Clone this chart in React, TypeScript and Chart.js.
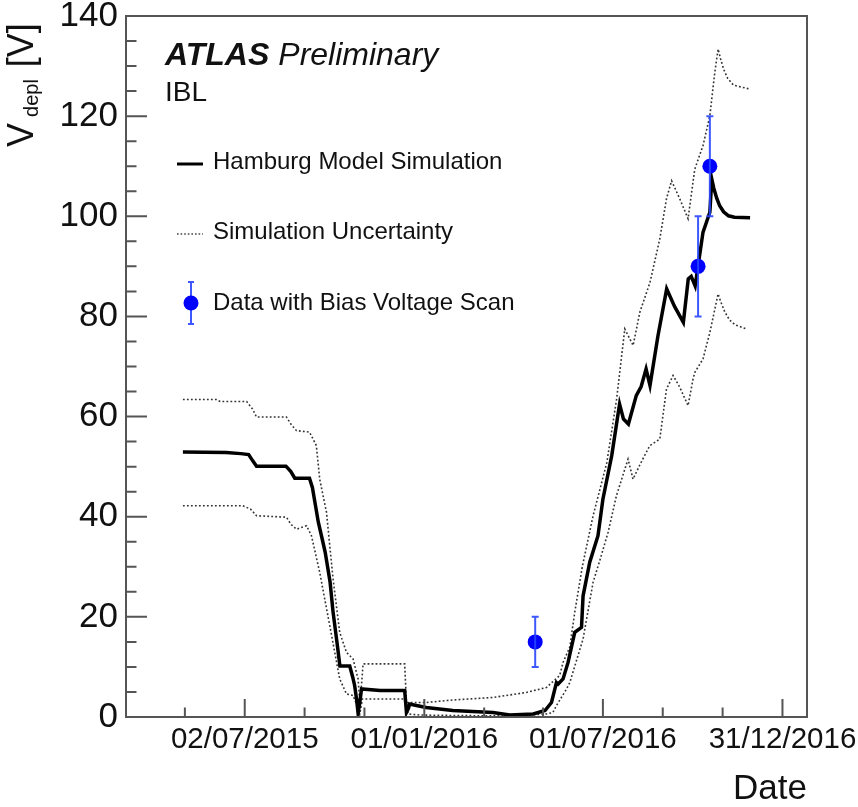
import { useEffect, useRef } from 'react';
import { Chart, registerables } from 'chart.js';

Chart.register(...registerables);

const FONT = '"Liberation Sans", Arimo, Helvetica, Arial, sans-serif';

// x values are days counted from 01/01/2015
const xMinDay = 61;
const xMaxDay = 755;
const xTickDays = [182, 365, 547, 730];
const xTickLabels = ['02/07/2015', '01/01/2016', '01/07/2016', '31/12/2016'];
const xMinorDays = [121, 243, 304, 426, 486, 608, 669];
const yTickValues = [0, 20, 40, 60, 80, 100, 120, 140];

// Hamburg model simulation (central value)
const simDays = [119, 163, 178, 186, 190, 194, 224, 229, 233, 248, 251, 253, 257, 261, 264, 269, 272, 276, 279, 289, 292, 294, 296, 297.5, 299, 301, 320, 345, 346.8, 349, 350, 357, 367, 394, 435, 452, 476, 488, 494.6, 499.7, 501.4, 506.4, 511.5, 518.3, 525.2, 526.8, 533.6, 542, 547, 556, 564, 568, 573, 581, 586, 591, 595, 603, 612, 620, 629, 634, 637, 641, 649, 656, 658, 660, 663, 666, 670, 675, 681, 697];
const simVdepl = [52.9, 52.8, 52.6, 52.4, 51.2, 50.1, 50.1, 49.0, 47.7, 47.7, 45.8, 43.5, 38.9, 35.5, 32.9, 26.9, 21, 14.9, 10.2, 10.2, 8.0, 6.3, 3.5, 0.8, 2.5, 5.6, 5.3, 5.3, 0.9, 1.8, 2.6, 2.3, 1.9, 1.3, 0.9, 0.4, 0.6, 1.3, 2.9, 6.9, 6.6, 7.6, 10.9, 16.9, 17.9, 24.2, 30.9, 36.2, 43.5, 52.2, 62.5, 59.5, 58.5, 64.2, 66, 69.5, 66.2, 76, 85.5, 82, 78.8, 87.5, 88, 86.1, 96.8, 100.8, 107.4, 105.6, 103.6, 102.1, 100.9, 100.1, 99.8, 99.7];

// Simulation uncertainty, upper edge
const upperDays = [119, 153, 157, 184, 190, 194, 224.5, 229, 234.7, 248, 255, 258.4, 265.3, 272, 278.8, 285.7, 292.4, 297.5, 299.5, 302.6, 345, 346.8, 367, 394, 435, 469, 489.5, 503, 506.4, 513.3, 518.3, 526, 537, 551, 561, 569.3, 577.8, 584.6, 595, 605, 611.8, 617, 625.3, 633.8, 640.6, 649, 656, 661, 664.4, 667, 670, 674, 680, 696.7];
const upperVdepl = [63.4, 63.4, 63.0, 63.0, 61.5, 59.9, 59.9, 58.5, 57.2, 56.9, 54.2, 47.5, 40.9, 27.6, 16.9, 12.9, 11.6, 7.6, 2.5, 10.6, 10.6, 2.9, 2.9, 3.4, 3.9, 4.9, 5.9, 8.3, 10.9, 14, 20.9, 30, 40.2, 50.8, 63.5, 77.5, 74.2, 80.8, 86.8, 95.5, 103.5, 107.1, 103.5, 99.5, 109.4, 114.1, 120.1, 128.7, 133.4, 131.4, 129.4, 127.6, 126.2, 125.4];

// Simulation uncertainty, lower edge
const lowerDays = [119, 180, 188, 194, 224.5, 229, 234.7, 245, 250, 258.4, 268.6, 278.8, 285.7, 292.4, 296, 299.2, 302, 345, 348.5, 360, 394, 450, 489.5, 496, 499.7, 510, 513.3, 526.8, 537, 545, 552.3, 560.8, 572.6, 577.7, 585, 594.8, 605, 611.8, 618.5, 625, 633.8, 638.9, 640.6, 649, 656, 664.4, 667, 671, 676, 682, 693.3];
const lowerVdepl = [42.2, 42.2, 41.5, 40.2, 39.9, 38.5, 37.5, 38.2, 36.2, 28.9, 18.3, 7.6, 4.6, 4.3, 2.5, 0.6, 3.6, 3.6, 0.6, 0.4, 0.3, 0.2, 0.6, 0.9, 2.3, 5.6, 6.9, 15.6, 26.9, 32, 36.9, 44.2, 51.5, 47.5, 50.5, 54.2, 55.5, 65.5, 68.2, 66, 62.2, 67.5, 68.8, 71.5, 76.8, 84.5, 83, 81, 79.3, 78.3, 77.5];

// Bias voltage scan measurements
const scanDays = [478, 644, 656];
const scanVdepl = [15, 90, 110];
const scanErr = [5, 10, 10];

const toPoints = (xs: number[], ys: number[]) => xs.map((x, i) => ({ x, y: ys[i] }));

const decorPlugin = {
  id: 'rootStyleDecor',
  afterDatasetsDraw(chart: any) {
    const { ctx, scales } = chart;
    const xs = scales.x;
    const ys = scales.y;
    ctx.save();
    ctx.strokeStyle = 'rgba(40,70,255,0.9)';
    ctx.lineWidth = 2;
    scanDays.forEach((d, i) => {
      const px = xs.getPixelForValue(d);
      const lo = ys.getPixelForValue(scanVdepl[i] - scanErr[i]);
      const hi = ys.getPixelForValue(scanVdepl[i] + scanErr[i]);
      ctx.beginPath();
      ctx.moveTo(px, lo);
      ctx.lineTo(px, hi);
      ctx.moveTo(px - 3.5, lo);
      ctx.lineTo(px + 3.5, lo);
      ctx.moveTo(px - 3.5, hi);
      ctx.lineTo(px + 3.5, hi);
      ctx.stroke();
    });
    ctx.restore();
  },
  afterDraw(chart: any) {
    const { ctx, chartArea, scales } = chart;
    const { left, right, top, bottom } = chartArea;
    const xs = scales.x;
    const ys = scales.y;
    ctx.save();

    // frame
    ctx.strokeStyle = '#555';
    ctx.lineWidth = 2;
    ctx.strokeRect(left, top, right - left, bottom - top);

    // inward tick marks
    ctx.beginPath();
    for (let v = 0; v <= 140; v += 5) {
      const py = ys.getPixelForValue(v);
      const len = v % 20 === 0 ? 21 : 10.5;
      ctx.moveTo(left, py);
      ctx.lineTo(left + len, py);
    }
    xTickDays.forEach((d) => {
      const px = xs.getPixelForValue(d);
      ctx.moveTo(px, bottom);
      ctx.lineTo(px, bottom - 18);
    });
    xMinorDays.forEach((d) => {
      const px = xs.getPixelForValue(d);
      ctx.moveTo(px, bottom);
      ctx.lineTo(px, bottom - 9.5);
    });
    ctx.stroke();

    // y axis title: V_depl [V]
    ctx.fillStyle = '#111';
    ctx.save();
    ctx.translate(33, 147);
    ctx.rotate(-Math.PI / 2);
    ctx.textBaseline = 'alphabetic';
    ctx.textAlign = 'left';
    ctx.font = `36px ${FONT}`;
    ctx.fillText('V', 0, 0);
    const wV = ctx.measureText('V').width;
    ctx.font = `20px ${FONT}`;
    ctx.fillText('depl', wV + 6, 5);
    const wSub = ctx.measureText('depl').width;
    ctx.font = `36px ${FONT}`;
    ctx.fillText(' [V]', wV + 6 + wSub + 2, 0);
    ctx.restore();

    // ATLAS label
    ctx.textBaseline = 'alphabetic';
    ctx.textAlign = 'left';
    ctx.font = `italic bold 32px ${FONT}`;
    ctx.fillText('ATLAS', 165, 65);
    const wA = ctx.measureText('ATLAS').width;
    ctx.font = `italic 32px ${FONT}`;
    ctx.fillText('Preliminary', 165 + wA + 9, 65);
    ctx.font = `28px ${FONT}`;
    ctx.fillText('IBL', 165, 101);

    // legend
    ctx.font = `24px ${FONT}`;
    ctx.textBaseline = 'middle';
    ctx.fillText('Hamburg Model Simulation', 213, 162);
    ctx.fillText('Simulation Uncertainty', 213, 232);
    ctx.fillText('Data with Bias Voltage Scan', 213, 303);

    ctx.strokeStyle = '#000';
    ctx.lineWidth = 3;
    ctx.beginPath();
    ctx.moveTo(177, 164);
    ctx.lineTo(203, 164);
    ctx.stroke();

    ctx.strokeStyle = '#444';
    ctx.lineWidth = 1.4;
    ctx.setLineDash([1.6, 2]);
    ctx.beginPath();
    ctx.moveTo(177, 234);
    ctx.lineTo(203, 234);
    ctx.stroke();
    ctx.setLineDash([]);

    ctx.strokeStyle = 'rgba(40,70,255,0.9)';
    ctx.lineWidth = 2;
    ctx.beginPath();
    ctx.moveTo(191, 282);
    ctx.lineTo(191, 324);
    ctx.moveTo(188, 282);
    ctx.lineTo(194, 282);
    ctx.moveTo(188, 324);
    ctx.lineTo(194, 324);
    ctx.stroke();
    ctx.fillStyle = '#0000ff';
    ctx.beginPath();
    ctx.arc(191, 303, 7.5, 0, Math.PI * 2);
    ctx.fill();

    ctx.restore();
  },
};

export default function App() {
  const canvasRef = useRef<HTMLCanvasElement | null>(null);

  useEffect(() => {
    const canvas = canvasRef.current;
    if (!canvas) return;
    const chart = new Chart(canvas, {
      type: 'line',
      data: {
        datasets: [
          {
            label: 'Data with Bias Voltage Scan',
            data: toPoints(scanDays, scanVdepl),
            showLine: false,
            pointRadius: 7.5,
            pointHoverRadius: 7.5,
            pointBackgroundColor: '#0000ff',
            pointBorderWidth: 0,
            borderColor: '#0000ff',
          },
          {
            label: 'Hamburg Model Simulation',
            data: toPoints(simDays, simVdepl),
            borderColor: '#000',
            borderWidth: 3.5,
            pointRadius: 0,
            tension: 0,
            fill: false,
          },
          {
            label: 'Simulation Uncertainty',
            data: toPoints(upperDays, upperVdepl),
            borderColor: '#333',
            borderWidth: 1.6,
            borderDash: [1.8, 2.2],
            pointRadius: 0,
            tension: 0,
            fill: false,
          },
          {
            label: 'Simulation Uncertainty (lower)',
            data: toPoints(lowerDays, lowerVdepl),
            borderColor: '#333',
            borderWidth: 1.6,
            borderDash: [1.8, 2.2],
            pointRadius: 0,
            tension: 0,
            fill: false,
          },
        ],
      },
      options: {
        animation: false,
        responsive: false,
        maintainAspectRatio: false,
        events: [],
        layout: { padding: { top: 16, right: 51, left: 0, bottom: 0 } },
        plugins: {
          legend: { display: false },
          tooltip: { enabled: false },
        },
        scales: {
          x: {
            type: 'linear',
            min: xMinDay,
            max: xMaxDay,
            grid: { display: false, drawTicks: false },
            border: { display: false },
            afterBuildTicks: (scale: any) => {
              scale.ticks = xTickDays.map((v) => ({ value: v }));
            },
            afterFit: (scale: any) => {
              scale.height = 90;
              scale.paddingLeft = 0;
              scale.paddingRight = 0;
            },
            ticks: {
              autoSkip: false,
              maxRotation: 0,
              minRotation: 0,
              padding: 5,
              color: '#111',
              font: { family: FONT, size: 29.5 },
              callback: (value: any) => {
                const i = xTickDays.indexOf(Number(value));
                return i >= 0 ? xTickLabels[i] : '';
              },
            },
            title: {
              display: true,
              text: 'Date',
              align: 'end',
              color: '#111',
              font: { family: FONT, size: 35, lineHeight: 1 },
              padding: { top: 0, bottom: 0 },
            },
          },
          y: {
            type: 'linear',
            min: 0,
            max: 140,
            grid: { display: false, drawTicks: false },
            border: { display: false },
            afterBuildTicks: (scale: any) => {
              scale.ticks = yTickValues.map((v) => ({ value: v }));
            },
            afterFit: (scale: any) => {
              scale.width = 126;
              scale.paddingTop = 0;
              scale.paddingBottom = 0;
            },
            ticks: {
              padding: 8,
              color: '#111',
              font: { family: FONT, size: 35 },
              callback: (value: any) => String(value),
            },
          },
        },
      },
      plugins: [decorPlugin],
    });
    return () => chart.destroy();
  }, []);

  return (
    <div style={{ position: 'fixed', left: 0, top: 0, width: 858, height: 807, background: '#fff' }}>
      <canvas ref={canvasRef} width={858} height={807} style={{ display: 'block' }} />
    </div>
  );
}
